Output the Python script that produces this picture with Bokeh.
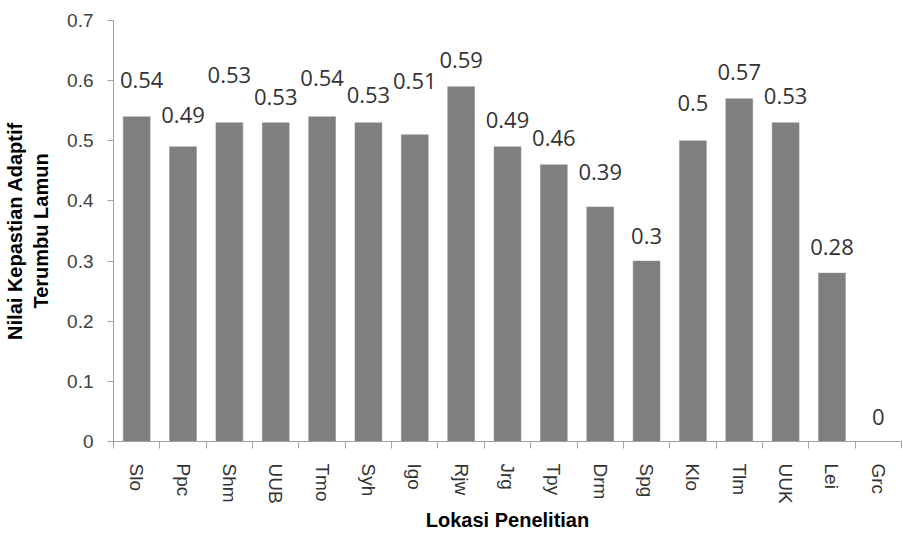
import math
from bokeh.plotting import figure
from bokeh.models import FixedTicker, ColumnDataSource, Range1d
from bokeh.core.properties import value
from bokeh.embed import file_html
from bokeh.resources import INLINE

locations = ["Slo", "Ppc", "Shm", "UUB", "Tmo", "Syh", "Igo", "Rjw", "Jrg",
             "Tpy", "Drm", "Spg", "Klo", "Tlm", "UUK", "Lei", "Grc"]
scores = [0.54, 0.49, 0.53, 0.53, 0.54, 0.53, 0.51, 0.59, 0.49,
          0.46, 0.39, 0.30, 0.50, 0.57, 0.53, 0.28, 0.0]
y_ticks = [0.0, 0.1, 0.2, 0.3, 0.4, 0.5, 0.6, 0.7]

# pixel lift of each value label above its bar (style)
label_lift = [37, 32, 48, 26, 39, 28, 54, 27, 27, 27, 35, 25, 38, 27, 27, 26, 25]
label_shift = [5, 0, 0, 0, 0, 0, 0, 0, 0, 0, 0, 0, 0, 0, 0, 0, 0]

n = len(locations)
idx = list(range(n))
src = ColumnDataSource(dict(
    x=idx,
    score=scores,
    label=[f"{v:g}" for v in scores],
    dy=[-d for d in label_lift],
    dx=label_shift,
))

p = figure(width=903, height=533, output_backend="svg", toolbar_location=None,
           x_range=Range1d(-0.5, n - 0.5), y_range=Range1d(0, 0.7),
           min_border_left=113, min_border_right=2, min_border_top=20,
           min_border_bottom=91)
p.outline_line_color = None
p.grid.visible = False
p.background_fill_color = "white"

p.vbar(x="x", top="score", width=0.58, source=src,
       fill_color="#7f7f7f", line_color="#8a8a8a", line_width=0.5)

p.text(x="x", y="score", text="label", source=src,
       x_offset="dx", y_offset="dy",
       text_align="center", text_baseline="middle",
       text_font=value("Open Sans"), text_font_size="22px",
       text_color="#333333")

axis_color = "#a0a0a0"

xa = p.xaxis[0]
xa.ticker = FixedTicker(ticks=idx, minor_ticks=[i - 0.5 for i in range(n + 1)])
xa.major_label_overrides = {i: locations[i] for i in idx}
xa.major_label_orientation = -math.pi / 2
xa.major_tick_out = 0
xa.major_tick_in = 0
xa.minor_tick_out = 7
xa.minor_tick_in = 0
xa.axis_line_color = axis_color
xa.minor_tick_line_color = axis_color
xa.major_label_standoff = 15
xa.major_label_text_font = "Liberation Sans"
xa.major_label_text_font_size = "19px"
xa.major_label_text_color = "#333333"
xa.axis_label = "Lokasi Penelitian"
xa.axis_label_text_font = "Liberation Sans"
xa.axis_label_text_font_style = "bold"
xa.axis_label_text_font_size = "20px"
xa.axis_label_text_color = "#000000"
xa.axis_label_standoff = 2

ya = p.yaxis[0]
ya.ticker = FixedTicker(ticks=y_ticks, minor_ticks=[])
ya.major_label_overrides = {t: f"{t:g}" for t in y_ticks}
ya.major_tick_out = 6
ya.major_tick_in = 0
ya.minor_tick_out = 0
ya.minor_tick_in = 0
ya.axis_line_color = axis_color
ya.major_tick_line_color = axis_color
ya.major_label_standoff = 14
ya.major_label_text_font = "Liberation Sans"
ya.major_label_text_font_size = "19px"
ya.major_label_text_color = "#404040"
ya.axis_label = "Nilai Kepastian Adaptif\nTerumbu Lamun"
ya.axis_label_text_font = "Liberation Sans"
ya.axis_label_text_font_style = "bold"
ya.axis_label_text_font_size = "20px"
ya.axis_label_text_color = "#000000"
ya.axis_label_standoff = 12

open("out.html", "w").write(file_html(p, INLINE))
